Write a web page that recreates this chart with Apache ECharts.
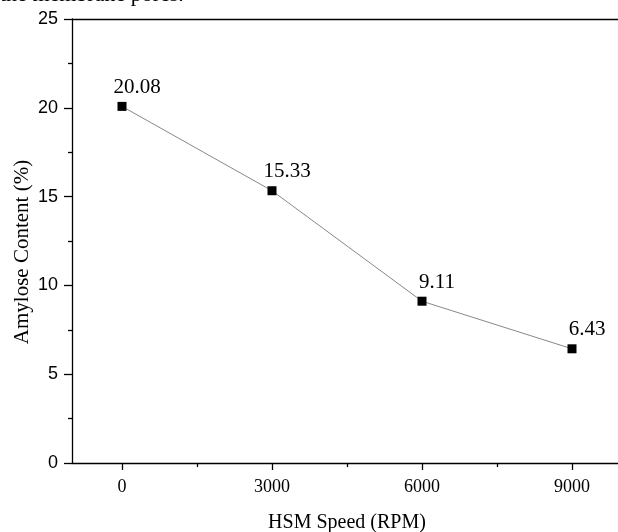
<!DOCTYPE html>
<html>
<head>
<meta charset="utf-8">
<script src="https://cdn.jsdelivr.net/npm/echarts@6/dist/echarts.min.js"></script>
<style>
  html, body { margin: 0; padding: 0; background: #fff; }
  #chart { width: 618px; height: 532px; }
</style>
</head>
<body>
<div id="chart"></div>
<script>
// data
const speeds = [0, 3000, 6000, 9000];
const amylose = [20.08, 15.33, 9.11, 6.43];
const xTicks = [0, 3000, 6000, 9000];
const xMinorTicks = [1500, 4500, 7500];

const serif = '"Liberation Serif", "Times New Roman", serif';
const sans = '"Liberation Sans", Arial, sans-serif';

let myChart = echarts.init(document.getElementById('chart'));

myChart.setOption({
  backgroundColor: '#fff',
  animation: false,
  graphic: [
    {
      // cut-off line of the surrounding page text
      type: 'text',
      left: 0,
      top: -16,
      style: {
        text: 'the membrane pores.',
        font: '22px ' + serif,
        fill: '#000'
      }
    }
  ],
  grid: {
    left: 72,
    top: 19,
    width: 550,
    height: 444,
    outerBoundsMode: 'none',
    containLabel: false
  },
  xAxis: [
    {
      type: 'value',
      min: -1000,
      max: 10000,
      name: 'HSM Speed (RPM)',
      nameLocation: 'middle',
      nameGap: 50,
      nameMoveOverlap: false,
      nameTextStyle: { fontFamily: serif, fontSize: 20, color: '#000' },
      axisLine: { onZero: false, lineStyle: { color: '#000', width: 1.3 } },
      axisTick: { customValues: xTicks, length: 7, lineStyle: { color: '#000', width: 1.3 } },
      axisLabel: {
        customValues: xTicks,
        fontFamily: serif,
        fontSize: 18,
        color: '#000',
        margin: 15,
        formatter: (v) => String(v)
      },
      splitLine: { show: false }
    },
    {
      type: 'value',
      position: 'bottom',
      min: -1000,
      max: 10000,
      axisLine: { show: false },
      axisTick: { customValues: xMinorTicks, length: 4, lineStyle: { color: '#000', width: 1.3 } },
      axisLabel: { show: false },
      splitLine: { show: false }
    },
    {
      // top frame line
      type: 'value',
      position: 'top',
      min: -1000,
      max: 10000,
      axisLine: { show: true, onZero: false, lineStyle: { color: '#000', width: 1.3 } },
      axisTick: { show: false },
      axisLabel: { show: false },
      splitLine: { show: false }
    }
  ],
  yAxis: {
    type: 'value',
    min: 0,
    max: 25,
    interval: 5,
    name: 'Amylose Content (%)',
    nameLocation: 'middle',
    nameGap: 39,
    nameMoveOverlap: false,
    nameTextStyle: { fontFamily: serif, fontSize: 21, color: '#000', padding: [0, 22, 0, 0] },
    axisLine: { show: true, onZero: false, lineStyle: { color: '#000', width: 1.3 } },
    axisTick: { length: 8, lineStyle: { color: '#000', width: 1.3 } },
    minorTick: { show: true, splitNumber: 2, length: 4, lineStyle: { color: '#000', width: 1.3 } },
    axisLabel: { fontFamily: sans, fontSize: 18, color: '#000', margin: 14 },
    splitLine: { show: false }
  },
  series: [
    {
      type: 'line',
      data: speeds.map((s, i) => [s, amylose[i]]),
      symbol: 'rect',
      symbolSize: 9,
      itemStyle: { color: '#000' },
      lineStyle: { color: '#888', width: 1 },
      label: {
        show: true,
        position: 'top',
        distance: 4,
        offset: [15, 0],
        fontFamily: serif,
        fontSize: 21,
        color: '#000',
        formatter: (p) => p.data[1].toFixed(2)
      }
    }
  ]
});
</script>
</body>
</html>
